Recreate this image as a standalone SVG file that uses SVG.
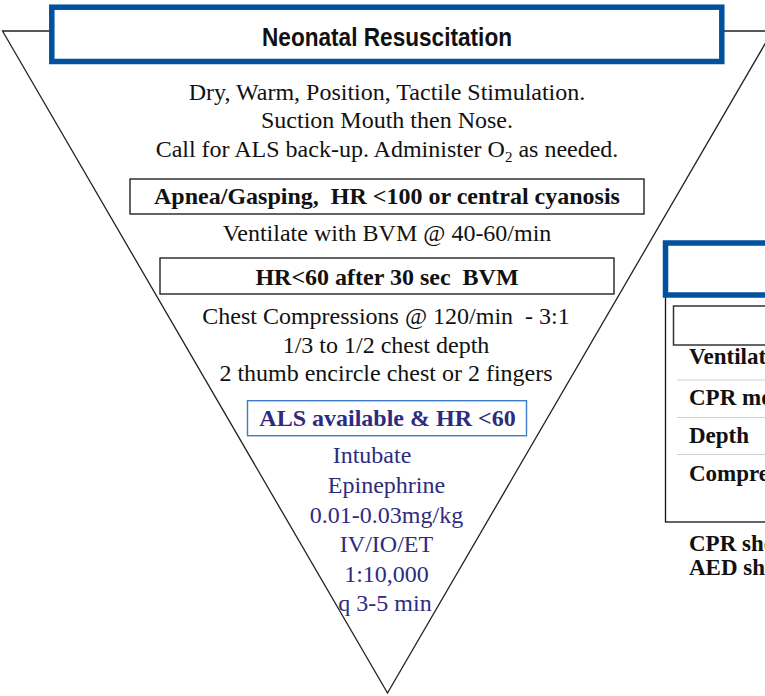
<svg xmlns="http://www.w3.org/2000/svg" width="765" height="696" viewBox="0 0 765 696">
<style>
.reg{font-family:"Liberation Serif","Times New Roman",serif;font-size:24px;fill:#111;text-anchor:middle}
.bold{font-family:"Liberation Serif","Times New Roman",serif;font-size:24px;font-weight:bold;fill:#111;text-anchor:middle}
.pur{font-family:"Liberation Serif","Times New Roman",serif;font-size:24px;fill:#2e2b7f;text-anchor:middle}
.row{font-family:"Liberation Serif","Times New Roman",serif;font-size:23px;font-weight:bold;fill:#111}
.hdr{font-family:"Liberation Sans",Arial,sans-serif;font-size:26px;font-weight:bold;fill:#111;text-anchor:middle}
.box{fill:#fff;stroke:#222;stroke-width:1.4}
.blue{fill:#fff;stroke:#0052a0;stroke-width:5.5}
.sep{stroke:#d0d0d0;stroke-width:1}
</style>
<rect width="765" height="696" fill="#fff"/>
<g id="triangle">
<polygon points="2.5,31 772.5,31 387.5,693" fill="#fff" stroke="#222" stroke-width="1.3"/>
</g>
<g id="header">
<rect class="blue" x="51.8" y="7.2" width="670" height="54.3"/>
<text class="hdr" x="387" y="45.5" textLength="250" lengthAdjust="spacingAndGlyphs">Neonatal Resuscitation</text>
</g>
<g id="intro">
<text class="reg" x="387" y="99.5">Dry, Warm, Position, Tactile Stimulation.</text>
<text class="reg" x="387" y="127.5">Suction Mouth then Nose.</text>
<text class="reg" x="387" y="156.5">Call for ALS back-up. Administer O<tspan font-size="15" dy="5">2</tspan><tspan dy="-5"> as needed.</tspan></text>
</g>
<g id="apnea">
<rect class="box" x="130" y="179" width="514" height="35"/>
<text class="bold" x="387" y="203.5" xml:space="preserve">Apnea/Gasping,  HR &lt;100 or central cyanosis</text>
</g>
<g id="ventilate">
<text class="reg" x="387" y="241">Ventilate with BVM @ 40-60/min</text>
</g>
<g id="hr60">
<rect class="box" x="160" y="258" width="454" height="36"/>
<text class="bold" x="387" y="284.5" xml:space="preserve">HR&lt;60 after 30 sec  BVM</text>
</g>
<g id="compressions">
<text class="reg" x="386" y="323.5" xml:space="preserve">Chest Compressions @ 120/min  - 3:1</text>
<text class="reg" x="386" y="352.5">1/3 to 1/2 chest depth</text>
<text class="reg" x="386" y="381">2 thumb encircle chest or 2 fingers</text>
</g>
<g id="als">
<rect x="247.5" y="400.7" width="279" height="35" fill="#fff" stroke="#3d7cc9" stroke-width="1.4"/>
<text class="bold" x="387.5" y="426" style="fill:#2e2b7f">ALS available &amp; HR &lt;60</text>
</g>
<g id="drugs">
<text class="pur" x="372" y="463">Intubate</text>
<text class="pur" x="386.5" y="493">Epinephrine</text>
<text class="pur" x="386.5" y="522.5">0.01-0.03mg/kg</text>
<text class="pur" x="386.5" y="552">IV/IO/ET</text>
<text class="pur" x="386.5" y="582">1:10,000</text>
<text class="pur" x="385" y="611">q 3-5 min</text>
</g>
<g id="side-panel">
<rect x="665.5" y="243" width="200" height="279" fill="#fff" stroke="#111" stroke-width="1.3"/>
<rect class="blue" x="665.5" y="243" width="200" height="52"/>
<rect x="673.5" y="306" width="200" height="39" fill="#fff" stroke="#333" stroke-width="1.5"/>
<line class="sep" x1="677" y1="380" x2="765" y2="380"/>
<line class="sep" x1="677" y1="417.5" x2="765" y2="417.5"/>
<line class="sep" x1="677" y1="454.5" x2="765" y2="454.5"/>
<text class="row" x="689" y="364">Ventilat</text>
<text class="row" x="689" y="405">CPR mo</text>
<text class="row" x="689" y="443">Depth</text>
<text class="row" x="689" y="480.5">Compre</text>
<text class="row" x="689" y="551">CPR sho</text>
<text class="row" x="689" y="575">AED sh</text>
</g>
</svg>
